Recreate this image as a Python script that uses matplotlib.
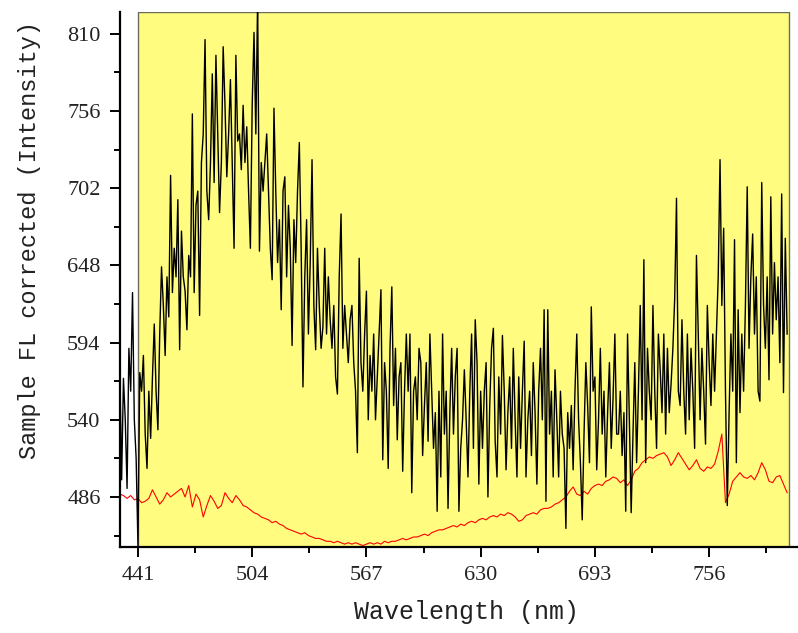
import numpy as np
import matplotlib.pyplot as plt
from matplotlib.patches import Rectangle
from matplotlib.ticker import MultipleLocator, FixedLocator

# sample FL (black trace), 1 nm steps from 431 to 799 nm
sample_nm = np.arange(431, 800, 1)
sample_fl = [
    575, 498, 569, 540, 492, 590, 560, 629, 540, 513,
    452, 573, 560, 585, 530, 506, 560, 527, 570, 607,
    560, 533, 600, 647, 620, 585, 640, 612, 711, 629,
    660, 640, 694, 589, 672, 640, 630, 603, 655, 640,
    754, 629, 690, 700, 613, 720, 740, 806, 700, 680,
    720, 782, 706, 795, 740, 685, 720, 801, 760, 710,
    740, 778, 720, 660, 795, 735, 740, 715, 760, 720,
    745, 700, 660, 760, 811, 740, 835, 658, 720, 700,
    720, 740, 700, 660, 638, 758, 700, 650, 680, 617,
    700, 710, 640, 690, 660, 592, 680, 650, 700, 734,
    660, 563, 640, 680, 600, 650, 722, 620, 589, 660,
    620, 590, 605, 660, 600, 640, 610, 590, 620, 570,
    558, 640, 684, 590, 620, 600, 580, 610, 620, 580,
    560, 517, 653, 580, 560, 600, 630, 540, 585, 560,
    600, 540, 570, 600, 631, 512, 580, 560, 506, 590,
    633, 550, 590, 526, 570, 580, 504, 560, 600, 560,
    600, 489, 560, 570, 540, 590, 580, 515, 550, 580,
    525, 600, 560, 520, 545, 476, 560, 500, 600, 530,
    560, 478, 545, 590, 530, 570, 590, 476, 520, 540,
    575, 540, 500, 560, 600, 520, 610, 580, 495, 560,
    520, 560, 580, 486, 550, 590, 604, 525, 500, 570,
    530, 599, 560, 505, 545, 570, 520, 590, 540, 500,
    570, 520, 560, 595, 500, 540, 560, 515, 580, 545,
    495, 560, 590, 540, 617, 483, 617, 530, 560, 500,
    575, 540, 500, 560, 530, 520, 464, 545, 520, 550,
    505, 560, 600, 540, 510, 470, 530, 580, 550, 510,
    619, 560, 570, 505, 540, 590, 530, 560, 500, 545,
    580, 520, 555, 600, 530, 530, 560, 515, 545, 476,
    600, 540, 475, 530, 580, 510, 560, 620, 540, 652,
    510, 590, 560, 540, 620, 560, 520, 600, 575, 545,
    600, 530, 590, 545, 565, 590, 625, 695, 560, 550,
    610, 560, 530, 600, 540, 590, 560, 520, 655, 600,
    540, 590, 560, 523, 620, 580, 550, 600, 560, 600,
    640, 722, 620, 674, 560, 480, 545, 600, 560, 666,
    510, 617, 545, 600, 560, 620, 703, 590, 640, 670,
    600, 640, 560, 553, 706, 620, 590, 640, 568, 696,
    600, 650, 610, 640, 580, 698, 559, 667, 600,
]

# reference trace (red), 2 nm steps from 431 to 799 nm
ref_nm = np.arange(431, 801, 2)
ref_fl = [
    488, 487, 485, 487, 484, 485, 482, 483, 485, 491,
    486, 481, 484, 489, 486, 488, 490, 492, 486, 494,
    479, 488, 484, 472, 480, 487, 483, 478, 480, 489,
    485, 482, 487, 484, 480, 479, 477, 475, 474, 472,
    471, 470, 468, 469, 467, 466, 464, 463, 462, 461,
    460, 461, 459, 458, 457, 457, 456, 455, 455, 454,
    455, 454, 453, 454, 453, 454, 453, 452, 453, 454,
    453, 454, 453, 455, 454, 455, 455, 456, 457, 456,
    457, 458, 458, 459, 460, 459, 461, 462, 463, 463,
    464, 465, 466, 465, 467, 466, 468, 469, 468, 470,
    471, 470, 472, 473, 472, 474, 473, 475, 474, 472,
    469, 470, 473, 474, 475, 474, 477, 478, 478, 479,
    481, 482, 484, 486, 490, 493, 488, 487, 490, 488,
    492, 494, 495, 494, 497, 498, 500, 499, 496, 498,
    494, 498, 504, 506, 510, 512, 514, 513, 515, 516,
    517, 514, 508, 512, 517, 513, 509, 505, 508, 512,
    506, 504, 507, 506, 509, 518, 530, 482, 488, 497,
    500, 503, 500, 499, 501, 498, 503, 510, 505, 497,
    496, 500, 501, 495, 489,
]

x_ticks = [441, 504, 567, 630, 693, 756]
y_ticks = [486, 540, 594, 648, 702, 756, 810]

fig = plt.figure(figsize=(7.98, 6.33), dpi=100)
ax = fig.add_axes([120/798, 86/633, 678/798, 535/633])

ax.add_patch(Rectangle((441, 451), 800 - 441, 825.3 - 451, facecolor='#FFFC80',
                       edgecolor='#6b6b5a', linewidth=1.0, zorder=0))
ax.plot(ref_nm, ref_fl, color='red', lw=0.8, zorder=2)
ax.plot(sample_nm, sample_fl, color='black', lw=1.0, zorder=3)

ax.set_xlim(431.1, 805)
ax.set_ylim(451, 825.3)
ax.spines['top'].set_visible(False)
ax.spines['right'].set_visible(False)
for s in ('left', 'bottom'):
    ax.spines[s].set_linewidth(1.6)
    ax.spines[s].set_zorder(5)

ax.xaxis.set_major_locator(FixedLocator(x_ticks))
ax.xaxis.set_minor_locator(MultipleLocator(31.5))
ax.yaxis.set_major_locator(FixedLocator(y_ticks))
ax.yaxis.set_minor_locator(MultipleLocator(27))
ax.tick_params(which='major', direction='out', length=7, width=1.4, pad=7,
               labelsize=16, labelcolor='#222222')
ax.tick_params(which='minor', direction='out', length=4, width=1.4)
for lab in ax.get_xticklabels() + ax.get_yticklabels():
    lab.set_family('Liberation Serif')

fig.text(467/798, 1 - 612/633, 'Wavelength (nm)', ha='center', va='center',
         family='Liberation Mono', fontsize=18, color='#222222')
fig.text(30/798, 1 - 240/633, 'Sample FL corrected (Intensity)', ha='center',
         va='center', rotation=90, family='Liberation Mono', fontsize=17,
         color='#222222')

fig.savefig('out.png', dpi=100)
